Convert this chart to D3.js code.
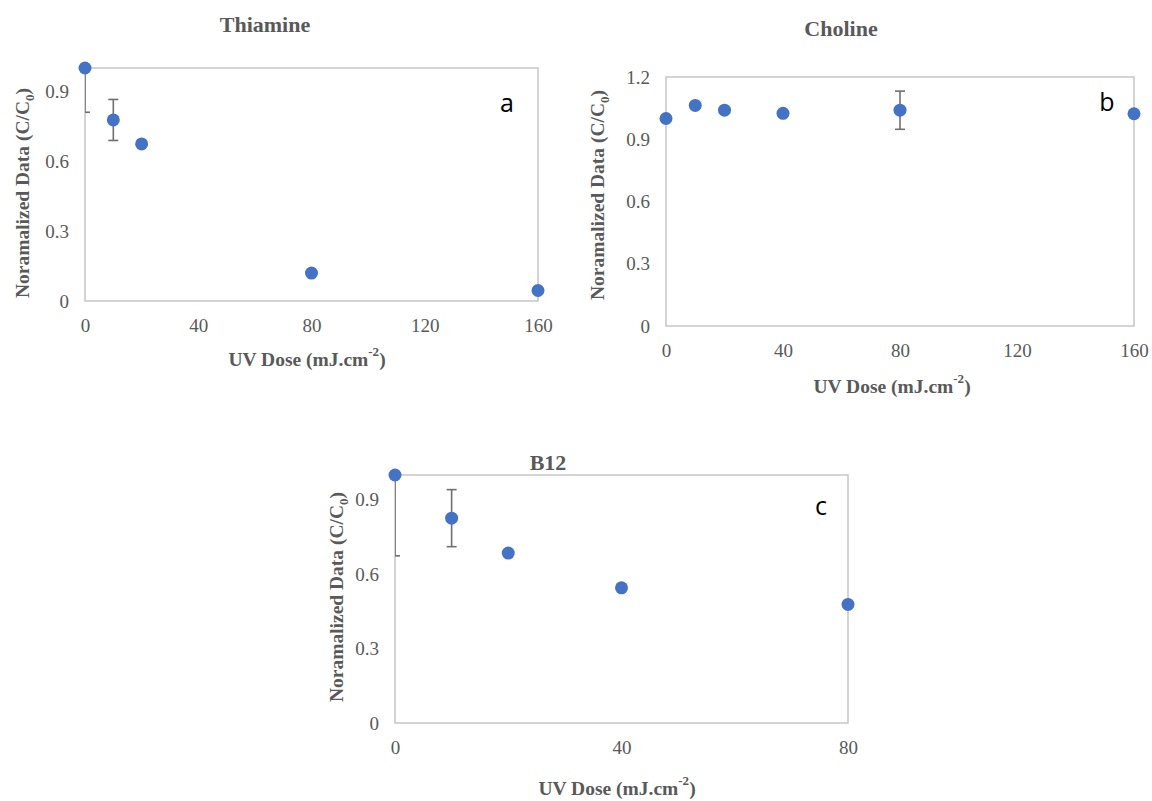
<!DOCTYPE html>
<html>
<head>
<meta charset="utf-8">
<script src="https://cdn.jsdelivr.net/npm/d3@7"></script>
<style>
  body { margin: 0; background: #fff; }
  svg { display: block; }
  .tick-label { font-family: "Liberation Serif", "Times New Roman", serif; font-size: 19px; fill: #595959; }
  .axis-title { font-family: "Liberation Serif", "Times New Roman", serif; font-size: 19.5px; font-weight: bold; fill: #595959; }
  .chart-title { font-family: "Liberation Serif", "Times New Roman", serif; font-size: 22px; font-weight: bold; fill: #595959; }
  .panel-letter { font-family: "Open Sans", "DejaVu Sans", sans-serif; font-size: 25px; fill: #000; }
</style>
</head>
<body>
<svg id="chart" width="1152" height="801"></svg>
<script>
// data
const thiamineDose = [0, 10, 20, 80, 160];
const thiamineValue = [1.0, 0.777, 0.674, 0.12, 0.045];
const thiamineErr = [0.19, 0.088, 0, 0, 0];

const cholineDose = [0, 10, 20, 40, 80, 160];
const cholineValue = [1.0, 1.063, 1.04, 1.025, 1.04, 1.023];
const cholineErr = [0, 0, 0, 0, 0.092, 0];

const b12Dose = [0, 10, 20, 40, 80];
const b12Value = [1.0, 0.826, 0.685, 0.545, 0.478];
const b12Err = [0.326, 0.115, 0, 0, 0];

const xTicksLong = [0, 40, 80, 120, 160];
const xTicksShort = [0, 40, 80];
const yTicksA = [0, 0.3, 0.6, 0.9];
const yTicksB = [0, 0.3, 0.6, 0.9, 1.2];

const markerColor = '#4472c4';
const svg = d3.select('#chart');

// panel layout
const panels = [
	{id: 'a', title: 'Thiamine', letter: 'a', dose: thiamineDose, value: thiamineValue, err: thiamineErr,
	 xMax: 160, yMax: 1.0, xTicks: xTicksLong, yTicks: yTicksA,
	 box: {left: 85, right: 538, top: 68, bottom: 301},
	 titlePos: [265, 24], yLabelPos: [22, 193], xTitlePos: [307, 359], letterPos: [507, 102]},
	{id: 'b', title: 'Choline', letter: 'b', dose: cholineDose, value: cholineValue, err: cholineErr,
	 xMax: 160, yMax: 1.2, xTicks: xTicksLong, yTicks: yTicksB,
	 box: {left: 666, right: 1134, top: 77, bottom: 326},
	 titlePos: [841, 28], yLabelPos: [597, 195], xTitlePos: [892, 386], letterPos: [1107, 101]},
	{id: 'c', title: 'B12', letter: 'c', dose: b12Dose, value: b12Value, err: b12Err,
	 xMax: 80, yMax: 1.0, xTicks: xTicksShort, yTicks: yTicksA,
	 box: {left: 395, right: 848, top: 475, bottom: 723},
	 titlePos: [548, 462], yLabelPos: [336, 597], xTitlePos: [617, 788], letterPos: [821, 505]}
];

panels.forEach(drawPanel);

function drawPanel(p) {
	const b = p.box;
	const w = b.right - b.left;
	const h = b.bottom - b.top;

	const x = d3.scaleLinear().domain([0, p.xMax]).range([b.left, b.right]);
	const y = d3.scaleLinear().domain([0, p.yMax]).range([b.bottom, b.top]);

	const g = svg.append('g').attr('class', 'panel-' + p.id);

	// frame
	g.append('rect')
		.attr('x', b.left).attr('y', b.top)
		.attr('width', w).attr('height', h)
		.attr('fill', 'none')
		.attr('stroke', '#c6c6c6')
		.attr('stroke-width', 1.5);

	// axes (labels only, no tick marks)
	const xAxis = g.append('g')
		.attr('transform', 'translate(0,' + (b.bottom + 14) + ')')
		.call(d3.axisBottom(x).tickValues(p.xTicks).tickSize(0).tickFormat(d3.format('d')));
	xAxis.select('.domain').remove();
	xAxis.attr('font-size', null).attr('font-family', null);
	xAxis.selectAll('text').attr('class', 'tick-label').attr('dy', '0.71em');

	const yAxis = g.append('g')
		.attr('transform', 'translate(' + (b.left - 16) + ',0)')
		.call(d3.axisLeft(y).tickValues(p.yTicks).tickSize(0).tickFormat(d => d === 0 ? '0' : d3.format('.1f')(d)));
	yAxis.select('.domain').remove();
	yAxis.attr('font-size', null).attr('font-family', null);
	yAxis.selectAll('text').attr('class', 'tick-label').attr('x', 0);

	// clip for error bars
	const clipId = 'clip-' + p.id;
	svg.append('clipPath').attr('id', clipId)
		.append('rect')
		.attr('x', b.left).attr('y', b.top)
		.attr('width', w).attr('height', h);

	const rows = p.dose.map((d, i) => ({dose: d, value: p.value[i], err: p.err[i]}));
	const errRows = rows.filter(d => d.err > 0);

	const eb = g.append('g').attr('clip-path', 'url(#' + clipId + ')')
		.selectAll('g').data(errRows).enter().append('g')
		.attr('stroke', '#707070').attr('stroke-width', 1.6);
	eb.append('line')
		.attr('x1', d => x(d.dose)).attr('x2', d => x(d.dose))
		.attr('y1', d => y(d.value - d.err)).attr('y2', d => y(d.value + d.err));
	eb.append('line')
		.attr('x1', d => x(d.dose) - 5).attr('x2', d => x(d.dose) + 5)
		.attr('y1', d => y(d.value - d.err)).attr('y2', d => y(d.value - d.err));
	eb.append('line')
		.attr('x1', d => x(d.dose) - 5).attr('x2', d => x(d.dose) + 5)
		.attr('y1', d => y(d.value + d.err)).attr('y2', d => y(d.value + d.err));

	// markers
	g.selectAll('circle.pt').data(rows).enter().append('circle')
		.attr('class', 'pt')
		.attr('cx', d => x(d.dose))
		.attr('cy', d => y(d.value))
		.attr('r', 6.5)
		.attr('fill', markerColor);

	// chart title
	g.append('text').attr('class', 'chart-title')
		.attr('x', p.titlePos[0])
		.attr('y', p.titlePos[1])
		.attr('text-anchor', 'middle')
		.attr('dominant-baseline', 'central')
		.text(p.title);

	// y axis title
	const yt = g.append('text').attr('class', 'axis-title')
		.attr('transform', 'translate(' + p.yLabelPos[0] + ',' + p.yLabelPos[1] + ') rotate(-90)')
		.attr('text-anchor', 'middle')
		.attr('dominant-baseline', 'central');
	yt.append('tspan').text('Noramalized Data (C/C');
	yt.append('tspan').attr('baseline-shift', 'sub').attr('font-size', '13px').text('0');
	yt.append('tspan').text(')');

	// x axis title
	const xt = g.append('text').attr('class', 'axis-title')
		.attr('x', p.xTitlePos[0])
		.attr('y', p.xTitlePos[1])
		.attr('text-anchor', 'middle')
		.attr('dominant-baseline', 'central');
	xt.append('tspan').text('UV Dose (mJ.cm');
	xt.append('tspan').attr('baseline-shift', 'super').attr('font-size', '13px').text('-2');
	xt.append('tspan').text(')');

	// panel letter
	g.append('text').attr('class', 'panel-letter')
		.attr('x', p.letterPos[0]).attr('y', p.letterPos[1])
		.attr('text-anchor', 'middle')
		.attr('dominant-baseline', 'central')
		.text(p.letter);
}
</script>
</body>
</html>
